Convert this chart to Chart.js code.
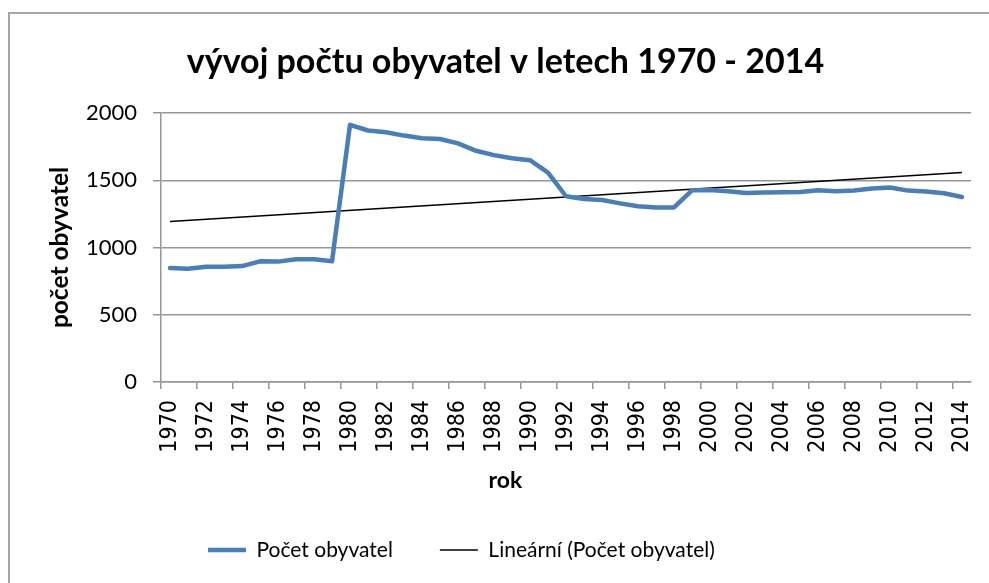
<!DOCTYPE html>
<html>
<head>
<meta charset="utf-8">
<script src="https://cdn.jsdelivr.net/npm/chart.js@4.4.1/dist/chart.umd.min.js"></script>
<style>
  body { margin: 0; background: #fff; overflow: hidden; }
  #frame { position: absolute; left: 8px; top: 12px; width: 1200px; height: 800px;
           border-left: 2px solid #a6a6a6; border-top: 2px solid #a6a6a6; }
  #c { position: absolute; left: 0; top: 0; }
</style>
</head>
<body>
<div id="frame"></div>
<canvas id="c" width="989" height="583"></canvas>
<script>
// data
const years = ['1970', '1971', '1972', '1973', '1974', '1975', '1976', '1977', '1978', '1979',
               '1980', '1981', '1982', '1983', '1984', '1985', '1986', '1987', '1988', '1989',
               '1990', '1991', '1992', '1993', '1994', '1995', '1996', '1997', '1998', '1999',
               '2000', '2001', '2002', '2003', '2004', '2005', '2006', '2007', '2008', '2009',
               '2010', '2011', '2012', '2013', '2014'];
const population = [847, 842, 857, 857, 862, 897, 895, 912, 912, 897,
                    1912, 1870, 1857, 1832, 1812, 1807, 1774, 1719, 1687, 1664,
                    1649, 1556, 1381, 1361, 1353, 1328, 1306, 1298, 1298, 1425,
                    1428, 1418, 1406, 1408, 1411, 1413, 1426, 1418, 1423, 1438,
                    1446, 1423, 1416, 1403, 1376];
// trend line end points
const trendYears = ['1970', '2014'];
const trendValues = [1194, 1557];
const yTicks = [0, 500, 1000, 1500, 2000];

const GRID = '#969696';

const trendPoints = trendYears.map((y, i) => ({ x: y, y: trendValues[i] }));

new Chart(document.getElementById('c'), {
    type: 'line',
    data: {
        labels: years,
        datasets: [{
            label: 'Počet obyvatel',
            data: population,
            borderColor: '#4a7ebb',
            backgroundColor: '#4a7ebb',
            borderWidth: 4.5,
            borderCapStyle: 'round',
            borderJoinStyle: 'round',
            pointRadius: 0,
            tension: 0
        }, {
            label: 'Lineární (Počet obyvatel)',
            data: trendPoints,
            borderColor: '#000',
            backgroundColor: '#000',
            borderWidth: 1.5,
            pointRadius: 0
        }]
    },
    options: {
        responsive: false,
        animation: false,
        devicePixelRatio: 1,
        layout: { padding: { left: 40, right: 18, top: 10, bottom: 12.5 } },
        plugins: {
            tooltip: { enabled: false },
            title: {
                display: true,
                text: 'vývoj počtu obyvatel v letech 1970 - 2014',
                color: '#000',
                font: { family: 'Lato', size: 34, weight: 'bold', lineHeight: 1.2 },
                padding: { top: 31.6, bottom: 30.6 }
            },
            legend: {
                position: 'bottom',
                align: 'start',
                fullSize: false,
                labels: {
                    color: '#000',
                    font: { family: 'Lato', size: 21 },
                    usePointStyle: true,
                    pointStyle: 'line',
                    pointStyleWidth: 38,
                    padding: 47
                }
            }
        },
        scales: {
            x: {
                offset: true,
                afterFit: s => { s.height = 70.5; s.paddingRight = 0; s.paddingLeft = 0; },
                grid: {
                    offset: true,
                    drawOnChartArea: false,
                    tickLength: 7,
                    lineWidth: 1.5,
                    color: c => c.index % 2 === 0 ? GRID : 'rgba(0,0,0,0)'
                },
                border: { color: GRID, width: 1.5 },
                ticks: {
                    autoSkip: false,
                    minRotation: 90,
                    maxRotation: 90,
                    padding: 11,
                    color: '#000',
                    font: { family: 'DejaVu Sans Condensed', size: 23 },
                    callback: function (v, i) { return i % 2 === 0 ? this.getLabelForValue(v) : ''; }
                }
            },
            // second bottom axis only carries the "rok" title, centred like the chart title
            x2: {
                type: 'category',
                position: 'bottom',
                fullSize: true,
                weight: 1,
                afterFit: s => { s.height = 40; },
                grid: { display: false },
                border: { display: false },
                ticks: { display: false },
                title: {
                    display: true,
                    text: 'rok',
                    color: '#000',
                    font: { family: 'Lato', size: 23, weight: 'bold', lineHeight: 1 },
                    padding: { top: 0, bottom: 0 }
                }
            },
            y: {
                min: 0,
                max: 2000,
                afterFit: s => { s.width = 121; },
                afterBuildTicks: s => { s.ticks = yTicks.map(v => ({ value: v })); },
                grid: { color: GRID, lineWidth: 1.5, tickLength: 8 },
                border: { color: GRID, width: 1.5 },
                ticks: {
                    padding: 16,
                    color: '#000',
                    font: { family: 'Lato', size: 22 },
                    callback: v => String(v)
                },
                title: {
                    display: true,
                    text: 'počet obyvatel',
                    color: '#000',
                    font: { family: 'Lato', size: 24.5, weight: 'bold', lineHeight: 1.2 },
                    padding: { top: 5.3, bottom: 0 }
                }
            }
        }
    }
});
</script>
</body>
</html>
